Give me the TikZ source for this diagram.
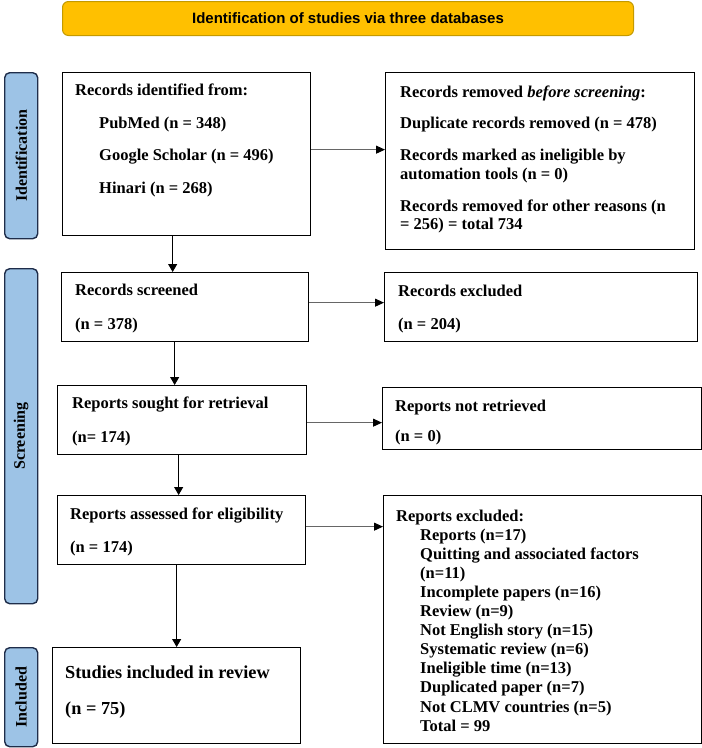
\documentclass[tikz,border=0pt]{standalone}
\usepackage{fontspec}
\setmainfont{Liberation Serif}
\setsansfont{Liberation Sans}
\usetikzlibrary{arrows.meta,calc}
\definecolor{banfill}{HTML}{FFC000}
\definecolor{banedge}{HTML}{C49A00}
\definecolor{labfill}{HTML}{9DC3E6}
\definecolor{labedge}{HTML}{1F2D4A}
\definecolor{hline}{HTML}{666666}
\tikzset{
  box/.style={draw=black, line width=1.3pt, inner sep=0pt, anchor=north west},
  lab/.style={draw=labedge, fill=labfill, line width=1.4pt, rounded corners=5pt, inner sep=0pt, anchor=north west},
  labtxt/.style={rotate=90, inner sep=0pt, font=\fontsize{16}{19}\selectfont\bfseries},
  txt/.style={anchor=base west, inner sep=0pt, font=\fontsize{16.5}{19}\selectfont\bfseries},
  bigtxt/.style={anchor=base west, inner sep=0pt, font=\fontsize{18.3}{21}\selectfont\bfseries},
  harr/.style={draw=hline, line width=1pt, -{Triangle[length=9pt,width=8pt,color=black]}},
  varr/.style={draw=black, line width=1pt, -{Triangle[length=8pt,width=9pt,color=black]}},
  banner/.style={draw=banedge, fill=banfill, line width=1pt, rounded corners=6pt, inner sep=0pt, anchor=north west,
    font=\sffamily\fontsize{15}{18}\selectfont\bfseries}
}
\begin{document}
\begin{tikzpicture}[x=1pt,y=-1pt]
\useasboundingbox (0,0) rectangle (702,748);

% banner
\node[banner, minimum width=571pt, minimum height=34pt] (ban) at (62,1) {Identification of studies via three databases};

% side labels
\node[lab, minimum width=33pt, minimum height=166pt] (lid) at (4,72) {};
\node[labtxt] (lidt) at (lid.center) {Identification};
\node[lab, minimum width=33pt, minimum height=335pt] (lsc) at (4,268) {};
\node[labtxt] (lsct) at (lsc.center) {Screening};
\node[lab, minimum width=33pt, minimum height=99pt] (lin) at (4,647) {};
\node[labtxt] (lint) at (lin.center) {Included};

% boxes
\node[box, minimum width=248pt, minimum height=163pt] (b1) at (62,72) {};
\node[box, minimum width=309pt, minimum height=177pt] (b2) at (385,72) {};
\node[box, minimum width=247pt, minimum height=69pt] (b3) at (61,272) {};
\node[box, minimum width=313pt, minimum height=69pt] (b4) at (384,272) {};
\node[box, minimum width=249pt, minimum height=69pt] (b5) at (57,385) {};
\node[box, minimum width=319pt, minimum height=62pt] (b6) at (382,387) {};
\node[box, minimum width=248pt, minimum height=69pt] (b7) at (57,495) {};
\node[box, minimum width=318pt, minimum height=248pt] (b8) at (383,495) {};
\node[box, minimum width=248pt, minimum height=96pt] (b9) at (52,647) {};

% box 1 text
\node[txt] (t1a) at (75,95) {Records identified from:};
\node[txt] (t1b) at (99,128) {PubMed (n = 348)};
\node[txt] (t1c) at (99,160) {Google Scholar (n = 496)};
\node[txt] (t1d) at (99,193) {Hinari (n = 268)};

% box 2 text
\node[txt] (t2a) at (400,97) {Records removed \textit{before screening}:};
\node[txt] (t2b) at (400,128) {Duplicate records removed (n = 478)};
\node[txt] (t2c) at (400,160) {Records marked as ineligible by};
\node[txt] (t2d) at (400,179) {automation tools (n = 0)};
\node[txt] (t2e) at (400,211) {Records removed for other reasons (n};
\node[txt] (t2f) at (400,229) {= 256) = total 734};

% box 3 / 4
\node[txt] (t3a) at (75,295) {Records screened};
\node[txt] (t3b) at (75,329) {(n = 378)};
\node[txt] (t4a) at (398,296) {Records excluded};
\node[txt] (t4b) at (398,329) {(n = 204)};

% box 5 / 6
\node[txt] (t5a) at (72,408) {Reports sought for retrieval};
\node[txt] (t5b) at (72,442) {(n= 174)};
\node[txt] (t6a) at (395,411) {Reports not retrieved};
\node[txt] (t6b) at (395,441) {(n = 0)};

% box 7
\node[txt] (t7a) at (70,519) {Reports assessed for eligibility};
\node[txt] (t7b) at (70,552) {(n = 174)};

% box 8
\node[txt] (t8h) at (396,521) {Reports excluded:};
\foreach \t [count=\i] in {Reports (n=17),Quitting and associated factors,(n=11),Incomplete papers (n=16),Review (n=9),Not English story (n=15),Systematic review (n=6),Ineligible time (n=13),Duplicated paper (n=7),Not CLMV countries (n=5),Total = 99}
  \node[txt] (t8\i) at (420,521+19.1*\i) {\t};

% box 9
\node[bigtxt] (t9a) at (65,678) {Studies included in review};
\node[bigtxt] (t9b) at (65,714) {(n = 75)};

% horizontal arrows
\draw[harr] ([yshift=4.5pt]b1.east) -- ([yshift=4.5pt]b1.east -| b2.west);
\draw[harr] ([yshift=4.5pt]b3.east) -- ([yshift=4.5pt]b3.east -| b4.west);
\draw[harr] ([yshift=-2.5pt]b5.east) -- ([yshift=-2.5pt]b5.east -| b6.west);
\draw[harr] ([yshift=3.5pt]b7.east) -- ([yshift=3.5pt]b7.east -| b8.west);

% vertical arrows
\draw[varr] ([xshift=-14pt]b1.south) -- ([xshift=-14pt]b1.south |- b3.north);
\draw[varr] ([xshift=-10.5pt]b3.south) -- ([xshift=-10.5pt]b3.south |- b5.north);
\draw[varr] ([xshift=-3.5pt]b5.south) -- ([xshift=-3.5pt]b5.south |- b7.north);
\draw[varr] ([xshift=-5pt]b7.south) -- ([xshift=-5pt]b7.south |- b9.north);
\end{tikzpicture}
\end{document}
